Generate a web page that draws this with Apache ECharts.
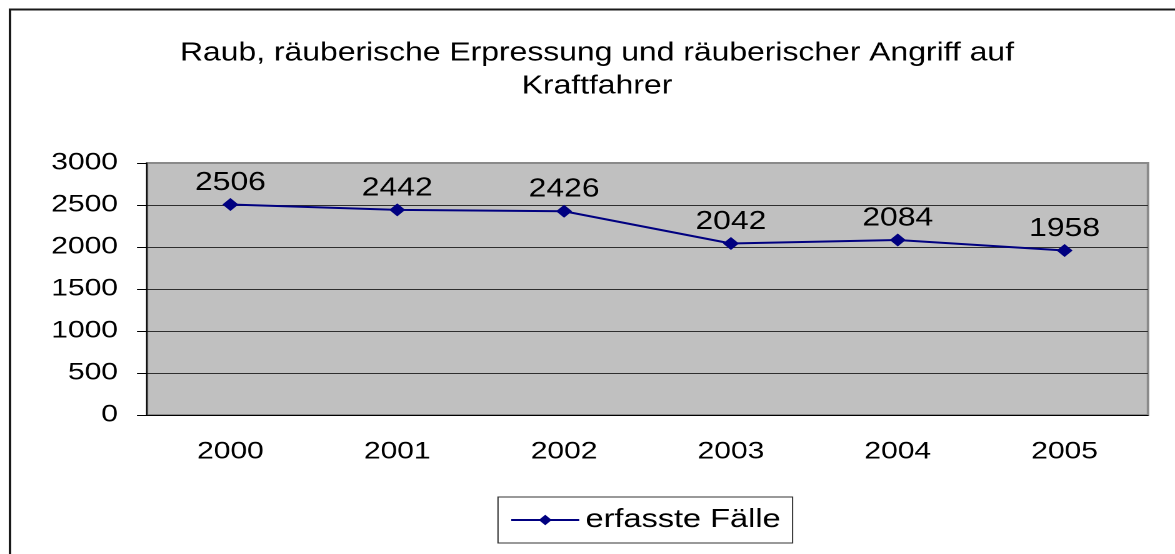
<!DOCTYPE html>
<html>
<head>
<meta charset="utf-8">
<script src="https://cdn.jsdelivr.net/npm/echarts@6/dist/echarts.min.js"></script>
<style>
  html, body { margin: 0; padding: 0; background: #fff; overflow: hidden; }
  /* the original picture is stretched sideways, so the chart is drawn
     narrower and widened again with a horizontal scale */
  #chartContainer {
    width: 940px;
    height: 554px;
    transform: scaleX(1.25);
    transform-origin: 0 0;
  }
</style>
</head>
<body>
<div id="chartContainer"></div>
<script>
// values
const titleText = "Raub, räuberische Erpressung und räuberischer Angriff auf\nKraftfahrer";
const years = ["2000", "2001", "2002", "2003", "2004", "2005"];
const cases = [2506, 2442, 2426, 2042, 2084, 1958];
const seriesName = "erfasste Fälle";

const fontName = "Liberation Sans";
const sx = 1.25; // horizontal stretch of the picture

function drawChart() {
  var myChart = echarts.init(document.getElementById("chartContainer"), null, {
    devicePixelRatio: 2
  });

  let option = {
    animation: false,
    backgroundColor: "#fff",
    textStyle: { fontFamily: fontName },
    title: {
      left: 597 / sx,
      textAlign: "center",
      top: 37,
      padding: 0,
      text: titleText,
      textStyle: {
        fontFamily: fontName,
        fontSize: 25.5,
        fontWeight: "normal",
        color: "#000",
        lineHeight: 33
      }
    },
    // outer chart frame (right and bottom edges run off the picture)
    graphic: [
      {
        type: "rect",
        silent: true,
        shape: { x: 10 / sx, y: 9.5, width: 1200, height: 600 },
        style: { fill: null, stroke: "#1a1a1a", lineWidth: 2 }
      }
    ],
    grid: {
      left: 147 / sx,
      right: 27 / sx,
      top: 163,
      bottom: 139,
      show: true,
      backgroundColor: "#c0c0c0",
      borderColor: "#8a8a8a",
      borderWidth: 2
    },
    legend: {
      left: 498 / sx,
      top: 497,
      padding: [10, 12 / sx, 10, 12 / sx],
      borderColor: "#333",
      borderWidth: 1,
      itemWidth: 68 / sx,
      itemHeight: 13,
      data: [seriesName],
      textStyle: {
        fontFamily: fontName,
        fontSize: 26,
        color: "#000"
      }
    },
    xAxis: {
      type: "category",
      data: years,
      boundaryGap: true,
      axisLine: { lineStyle: { color: "#000", width: 1 } },
      axisTick: { length: 8, lineStyle: { color: "#000" } },
      axisLabel: {
        margin: 25,
        fontSize: 24,
        color: "#000"
      },
      splitLine: { show: false }
    },
    yAxis: {
      type: "value",
      min: 0,
      max: 3000,
      interval: 500,
      axisLine: { show: true, lineStyle: { color: "#000", width: 1 } },
      axisTick: { show: true, length: 10 / sx, lineStyle: { color: "#000" } },
      axisLabel: {
        margin: 29 / sx,
        fontSize: 24,
        color: "#000",
        formatter: function(value) {
          return String(value);
        }
      },
      splitLine: {
        show: true,
        lineStyle: {
          color: ["#2e2e2e", "#2e2e2e", "#2e2e2e", "#2e2e2e", "#2e2e2e", "#2e2e2e", "#8a8a8a"],
          width: 1
        }
      }
    },
    series: [
      {
        name: seriesName,
        type: "line",
        data: cases,
        symbol: "diamond",
        symbolSize: [16 / sx, 13],
        itemStyle: { color: "#000080" },
        lineStyle: { color: "#000080", width: 2 },
        label: {
          show: true,
          position: "top",
          distance: 2,
          fontFamily: fontName,
          fontSize: 25.5,
          color: "#000"
        }
      }
    ]
  };
  myChart.setOption(option);
}

drawChart();
</script>
</body>
</html>
